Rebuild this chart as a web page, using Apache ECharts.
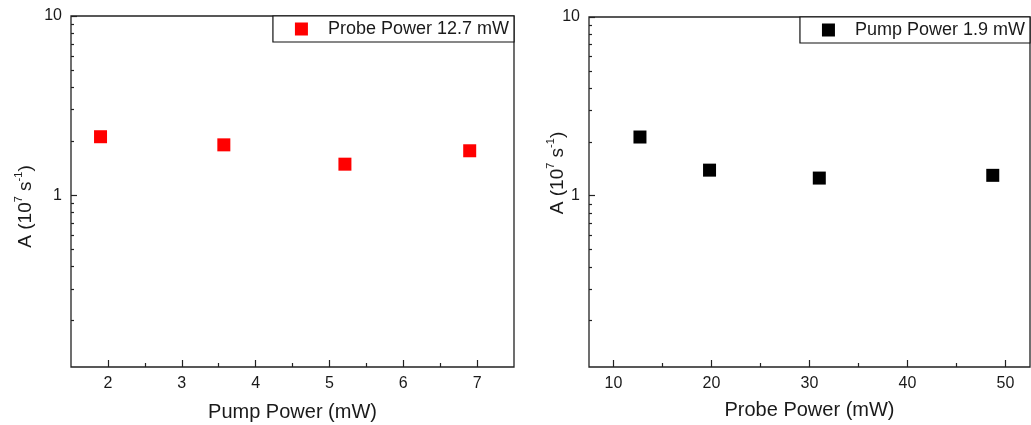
<!DOCTYPE html>
<html>
<head>
<meta charset="utf-8">
<script src="https://cdn.jsdelivr.net/npm/echarts@6/dist/echarts.min.js"></script>
<style>
html,body{margin:0;padding:0;background:#fff;}
#c{width:1031px;height:425px;}
</style>
</head>
<body>
<div id="c"></div>
<script>
// Data
const pumpPower = [1.9, 3.57, 5.21, 6.9];          // mW (left panel x)
const aVsPump   = [2.12, 1.91, 1.49, 1.77];        // 10^7 s^-1
const probePower = [12.7, 19.8, 31.0, 48.7];       // mW (right panel x)
const aVsProbe   = [2.13, 1.39, 1.255, 1.30];      // 10^7 s^-1

const leftName = 'Probe Power 12.7 mW';
const rightName = 'Pump Power 1.9 mW';

const leftXMajor = [2, 3, 4, 5, 6, 7];
const leftXMinor = [2.5, 3.5, 4.5, 5.5, 6.5];
const rightXMajor = [10, 20, 30, 40, 50];
const rightXMinor = [15, 25, 35, 45];
const yMajor = [1, 10];
const yMinor = [0.2, 0.3, 0.4, 0.5, 0.6, 0.7, 0.8, 0.9, 2, 3, 4, 5, 6, 7, 8, 9];

const FONT = "'Liberation Sans', Arial, sans-serif";
const TXT = '#1a1a1a';

function xAxes(grid, min, max, major, minor, name, gap) {
  return [
    {
      type: 'value', gridIndex: grid, position: 'bottom', min: min, max: max,
      name: name, nameLocation: 'middle', nameGap: gap, nameMoveOverlap: false,
      nameTextStyle: {fontFamily: FONT, fontSize: 20, color: TXT},
      axisLine: {show: false},
      splitLine: {show: false},
      axisTick: {show: true, inside: true, length: 7, customValues: major, lineStyle: {color: '#222', width: 1.2}},
      axisLabel: {customValues: major, fontFamily: FONT, fontSize: 16, color: TXT, margin: 9}
    },
    {
      type: 'value', gridIndex: grid, position: 'bottom', min: min, max: max,
      axisLine: {show: false},
      splitLine: {show: false},
      axisTick: {show: true, inside: true, length: 4, customValues: minor, lineStyle: {color: '#222', width: 1.2}},
      axisLabel: {show: false}
    }
  ];
}

function yAxes(grid, gap, pad) {
  return [
    {
      type: 'log', logBase: 10, gridIndex: grid, position: 'left', min: 0.11, max: 10,
      name: '{n|A (10}{s|7}{n| s}{s|-1}{n|)}', nameLocation: 'middle', nameGap: gap, nameMoveOverlap: false,
      nameTextStyle: {
        padding: pad,
        rich: {
          n: {fontFamily: FONT, fontSize: 19, color: TXT, lineHeight: 22, verticalAlign: 'bottom'},
          s: {fontFamily: FONT, fontSize: 11, color: TXT, lineHeight: 22, verticalAlign: 'top'}
        }
      },
      axisLine: {show: false},
      splitLine: {show: false},
      axisTick: {show: true, inside: true, length: 6, customValues: yMajor, lineStyle: {color: '#222', width: 1.2}},
      axisLabel: {customValues: yMajor, fontFamily: FONT, fontSize: 16, color: TXT, margin: 9}
    },
    {
      type: 'log', logBase: 10, gridIndex: grid, position: 'left', min: 0.11, max: 10,
      axisLine: {show: false},
      splitLine: {show: false},
      axisTick: {show: true, inside: true, length: 3, customValues: yMinor, lineStyle: {color: '#222', width: 1.2}},
      axisLabel: {show: false}
    }
  ];
}

function legendFor(name, right, top) {
  return {
    data: [name], right: right, top: top, orient: 'horizontal',
    backgroundColor: '#fff',
    borderColor: '#111', borderWidth: 1.2, borderRadius: 0,
    padding: [4, 5, 4, 22],
    itemWidth: 13, itemHeight: 13, icon: 'rect',
    selectedMode: false,
    textStyle: {fontFamily: FONT, fontSize: 18, color: TXT, padding: [0, 0, 0, 15]}
  };
}

const chart = echarts.init(document.getElementById('c'), null, {renderer: 'canvas'});
const xa = xAxes(0, 1.5, 7.5, leftXMajor, leftXMinor, 'Pump Power (mW)', 35)
  .concat(xAxes(1, 7.5, 52.5, rightXMajor, rightXMinor, 'Probe Power (mW)', 33));
const ya = yAxes(0, 36, [0, 30, 0, 0]).concat(yAxes(1, 22, [0, 0, 0, 38]));

chart.setOption({
  backgroundColor: '#fff',
  animation: false,
  grid: [
    {left: 71, top: 16, width: 443, height: 351, show: true, borderColor: '#222', borderWidth: 1.3, backgroundColor: 'transparent', outerBoundsMode: 'none', containLabel: false},
    {left: 589, top: 17, width: 441, height: 350, show: true, borderColor: '#222', borderWidth: 1.3, backgroundColor: 'transparent', outerBoundsMode: 'none', containLabel: false}
  ],
  xAxis: xa,
  yAxis: ya,
  legend: [legendFor(leftName, 517, 16), legendFor(rightName, 1, 17)],
  series: [
    {
      name: leftName, type: 'scatter', xAxisIndex: 0, yAxisIndex: 0,
      symbol: 'rect', symbolSize: 13,
      itemStyle: {color: '#ff0000', opacity: 1},
      data: pumpPower.map((x, i) => [x, aVsPump[i]])
    },
    {
      name: rightName, type: 'scatter', xAxisIndex: 2, yAxisIndex: 2,
      symbol: 'rect', symbolSize: 13,
      itemStyle: {color: '#000000', opacity: 1},
      data: probePower.map((x, i) => [x, aVsProbe[i]])
    }
  ]
});
</script>
</body>
</html>
